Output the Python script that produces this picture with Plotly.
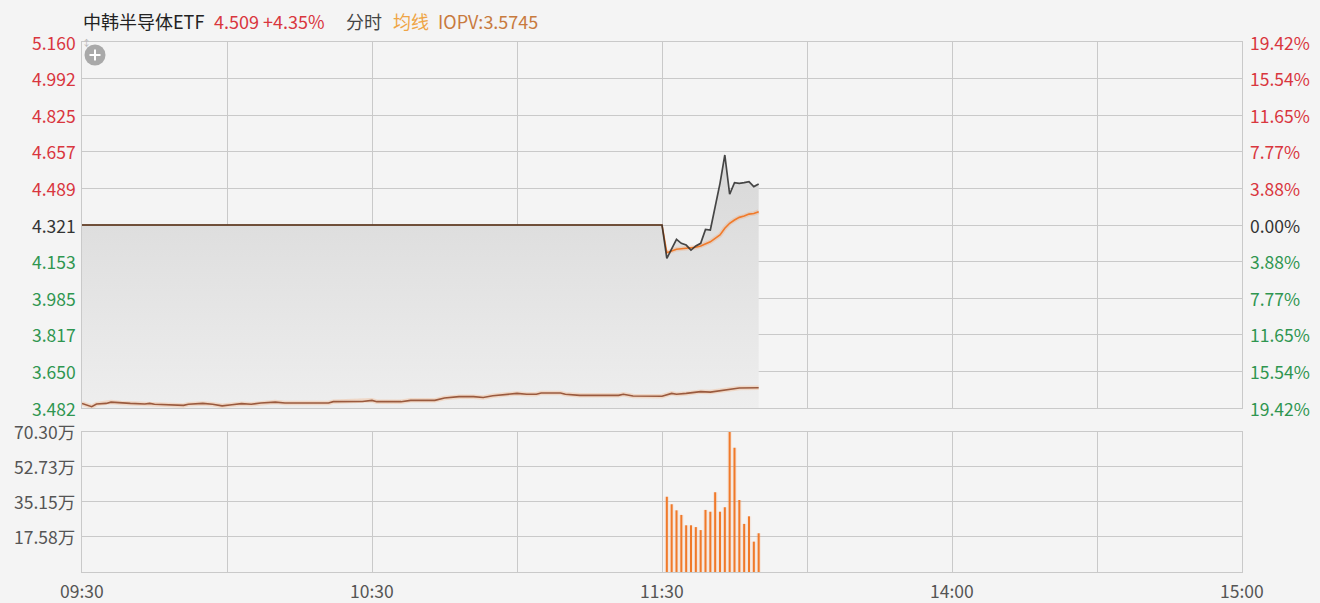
import plotly.graph_objects as go

# ---------------- data ----------------
prev_close = 4.321

price_ticks = [5.160, 4.992, 4.825, 4.657, 4.489, 4.321, 4.153, 3.985, 3.817, 3.650, 3.482]
pct_labels = ["19.42%", "15.54%", "11.65%", "7.77%", "3.88%", "0.00%",
              "3.88%", "7.77%", "11.65%", "15.54%", "19.42%"]
vol_ticks = [17.58, 35.15, 52.73, 70.30]
time_ticks = ["09:30", "10:00", "10:30", "11:00", "11:30", "13:30", "14:00", "14:30", "15:00"]
time_labels = ["09:30", "", "10:30", "", "11:30", "", "14:00", "", "15:00"]

price_times = ["09:30", "11:30", "13:01", "13:02", "13:03", "13:04", "13:05", "13:06", "13:07",
               "13:08", "13:09", "13:10", "13:11", "13:12", "13:13", "13:14", "13:15", "13:16",
               "13:17", "13:18", "13:19", "13:20"]
price_vals = [4.321, 4.321, 4.168, 4.214, 4.255, 4.237, 4.229, 4.206, 4.225,
              4.237, 4.301, 4.298, 4.405, 4.512, 4.642, 4.462, 4.515, 4.512,
              4.515, 4.520, 4.497, 4.509]
avg_vals = [4.321, 4.321, 4.194, 4.203, 4.210, 4.212, 4.214, 4.214, 4.219,
            4.225, 4.234, 4.244, 4.260, 4.275, 4.306, 4.329, 4.344, 4.356,
            4.362, 4.371, 4.374, 4.382]

iopv_times = ["09:30", "09:32", "09:33", "09:35", "09:36", "09:38", "09:40", "09:43", "09:44",
              "09:45", "09:51", "09:52", "09:55", "09:57", "09:59", "10:01", "10:03", "10:05",
              "10:07", "10:10", "10:12", "10:21", "10:22", "10:28", "10:30", "10:31", "10:36",
              "10:38", "10:43", "10:45", "10:48", "10:51", "10:53", "10:55", "10:58", "11:00",
              "11:02", "11:04", "11:05", "11:09", "11:10", "11:13", "11:21", "11:22", "11:24",
              "11:30", "13:02", "13:03", "13:05", "13:08", "13:10", "13:12", "13:14", "13:16",
              "13:20"]
iopv_vals = [3.503, 3.488, 3.500, 3.503, 3.509, 3.505, 3.503, 3.500, 3.503,
             3.499, 3.494, 3.499, 3.503, 3.499, 3.492, 3.497, 3.502, 3.499,
             3.505, 3.509, 3.505, 3.505, 3.511, 3.512, 3.517, 3.511, 3.511,
             3.517, 3.517, 3.528, 3.534, 3.534, 3.530, 3.538, 3.545, 3.549,
             3.545, 3.545, 3.551, 3.551, 3.545, 3.540, 3.540, 3.545, 3.537,
             3.536, 3.549, 3.545, 3.549, 3.557, 3.555, 3.561, 3.567, 3.574,
             3.5745]

vol_times = ["13:01", "13:02", "13:03", "13:04", "13:05", "13:06", "13:07", "13:08", "13:09",
             "13:10", "13:11", "13:12", "13:13", "13:14", "13:15", "13:16", "13:17", "13:18",
             "13:19", "13:20"]
vol_vals = [37.7, 33.9, 30.9, 28.6, 23.4, 23.4, 22.5, 21.0, 31.1,
            30.2, 39.9, 30.2, 32.4, 70.3, 62.3, 36.1, 24.1, 27.9,
            15.2, 19.4]


def tidx(t):
    h, m = map(int, t.split(":"))
    mins = h * 60 + m
    if mins <= 11 * 60 + 30:
        return mins - (9 * 60 + 30)
    return mins - 13 * 60 + 120


px_ = [tidx(t) for t in price_times]
iopv_x = [tidx(t) for t in iopv_times]
vol_x = [tidx(t) for t in vol_times]
tick_x = [tidx(t) for t in time_ticks]

FONT = "Noto Sans CJK SC, Noto Sans, sans-serif"
RED = "#d9363e"
GREEN = "#2f9650"
DARK = "#333333"
GRID = "#c9c9c9"
ORANGE = "#f07a2a"
LBL = 17.5

fig = go.Figure()

# baseline for the fill
fig.add_trace(go.Scatter(x=[px_[0], px_[-1]], y=[price_ticks[-1], price_ticks[-1]],
                         mode="lines", line=dict(width=0), hoverinfo="skip",
                         showlegend=False, xaxis="x", yaxis="y"))
# gradient fill under price
fig.add_trace(go.Scatter(x=px_, y=price_vals, mode="lines", line=dict(width=0),
                         fill="tonexty",
                         fillgradient=dict(type="vertical", start=price_ticks[-1], stop=max(price_vals),
                                           colorscale=[[0, "#eeeeee"], [1, "#d8d8d8"]]),
                         hoverinfo="skip", showlegend=False, xaxis="x", yaxis="y"))

# IOPV glow + line
fig.add_trace(go.Scatter(x=iopv_x, y=iopv_vals, mode="lines",
                         line=dict(color="rgba(245,165,110,0.3)", width=4.5),
                         showlegend=False, hoverinfo="skip", xaxis="x", yaxis="y"))
fig.add_trace(go.Scatter(x=iopv_x, y=iopv_vals, mode="lines",
                         line=dict(color="#9a5a3e", width=1.6),
                         showlegend=False, xaxis="x", yaxis="y"))

# average line glow + line
fig.add_trace(go.Scatter(x=px_[2:], y=avg_vals[2:], mode="lines",
                         line=dict(color="rgba(245,150,90,0.25)", width=4.5),
                         showlegend=False, hoverinfo="skip", xaxis="x", yaxis="y"))
fig.add_trace(go.Scatter(x=px_, y=avg_vals, mode="lines",
                         line=dict(color=ORANGE, width=1.6),
                         showlegend=False, xaxis="x", yaxis="y"))

# price line
fig.add_trace(go.Scatter(x=px_, y=price_vals, mode="lines",
                         line=dict(color="#2a2a2a", width=1.7), opacity=0.85,
                         showlegend=False, xaxis="x", yaxis="y"))

# volume bars (glow + bar)
fig.add_trace(go.Bar(x=vol_x, y=vol_vals, width=0.9, marker=dict(color="rgba(245,150,90,0.15)", line=dict(width=0)),
                     showlegend=False, hoverinfo="skip", xaxis="x2", yaxis="y2"))
fig.add_trace(go.Bar(x=vol_x, y=vol_vals, width=0.42, marker=dict(color=ORANGE, line=dict(width=0)),
                     showlegend=False, xaxis="x2", yaxis="y2"))

W, H = 1320, 603
L, R, T, B = 82, 78, 42, 31
plot_h = H - T - B
price_dom = [(572 - 408) / plot_h, 1.0]
vol_dom = [0.0, (572 - 431.7) / plot_h]

axis_common = dict(showgrid=True, gridcolor=GRID, gridwidth=1, showline=True, mirror=True,
                   linecolor=GRID, linewidth=1, zeroline=False, showticklabels=False, ticks="")

fig.update_layout(
    width=W, height=H,
    margin=dict(l=L, r=R, t=T, b=B),
    paper_bgcolor="#f4f4f4", plot_bgcolor="#f4f4f4",
    barmode="overlay",
    font=dict(family=FONT, size=16, color=DARK),
    showlegend=False,
    xaxis=dict(range=[0, 240], tickvals=tick_x, domain=[0, 1], anchor="y", **axis_common),
    yaxis=dict(range=[price_ticks[-1], price_ticks[0]], tickvals=price_ticks, domain=price_dom,
               anchor="x", **axis_common),
    xaxis2=dict(range=[0, 240], tickvals=tick_x, domain=[0, 1], anchor="y2", **axis_common),
    yaxis2=dict(range=[0, vol_ticks[-1]], tickvals=vol_ticks, domain=vol_dom, anchor="x2",
                **axis_common),
)

ann = []
# price tick labels (left) and percent labels (right)
for p, pl in zip(price_ticks, pct_labels):
    if abs(p - prev_close) < 1e-9:
        c = DARK
    elif p > prev_close:
        c = RED
    else:
        c = GREEN
    ann.append(dict(x=0, xref="paper", y=p, yref="y", text=f"{p:.3f}", showarrow=False,
                    xanchor="right", yanchor="middle", xshift=-4, font=dict(size=LBL, color=c)))
    ann.append(dict(x=1, xref="paper", y=p, yref="y", text=pl, showarrow=False,
                    xanchor="left", yanchor="middle", xshift=6, font=dict(size=LBL, color=c)))

# volume tick labels
for v in vol_ticks:
    ann.append(dict(x=0, xref="paper", y=v, yref="y2", text=f"{v:.2f}万", showarrow=False,
                    xanchor="right", yanchor="middle", xshift=-5, font=dict(size=LBL, color="#555555")))

# time labels
for tx, tl in zip(tick_x, time_labels):
    if tl:
        ann.append(dict(x=tx, xref="x2", y=0, yref="paper", text=tl, showarrow=False,
                        xanchor="center", yanchor="middle", yshift=-18, font=dict(size=LBL, color="#555555")))

# header
header = [("中韩半导体ETF", "#222222", -1),
          (f"{price_vals[-1]:.3f} +{(price_vals[-1] / prev_close - 1) * 100:.2f}%", RED, 130),
          ("分时", "#444444", 262),
          ("均线", "#efa545", 309),
          (f"IOPV:{iopv_vals[-1]}", "#c87a3e", 354)]
for txt, col, xs in header:
    ann.append(dict(x=0, xref="paper", y=1, yref="paper", text=txt, showarrow=False,
                    xanchor="left", yanchor="middle", xshift=xs, yshift=21,
                    font=dict(size=18, color=col)))

# tiny arrow near top-left
ann.append(dict(x=0, xref="paper", y=1, yref="paper", text="↕", showarrow=False,
                xanchor="left", yanchor="middle", xshift=-2, yshift=0,
                font=dict(size=9, color="#b5b5b5")))

fig.update_layout(annotations=ann)

# zoom "+" icon
fig.add_shape(type="circle", xref="paper", yref="paper", xsizemode="pixel", ysizemode="pixel",
              xanchor=0, yanchor=1, x0=2.5, x1=23.5, y0=-2.5, y1=-23.5,
              fillcolor="#a9a9a9", line=dict(width=0))
fig.add_shape(type="line", xref="paper", yref="paper", xsizemode="pixel", ysizemode="pixel",
              xanchor=0, yanchor=1, x0=7.5, x1=18.5, y0=-13, y1=-13,
              line=dict(color="white", width=2))
fig.add_shape(type="line", xref="paper", yref="paper", xsizemode="pixel", ysizemode="pixel",
              xanchor=0, yanchor=1, x0=13, x1=13, y0=-7.5, y1=-18.5,
              line=dict(color="white", width=2))

fig.write_html(
    "out.html",
    config={"displayModeBar": False},
    post_script="document.body.style.margin='0';document.body.style.padding='0';"
                "document.body.style.overflow='hidden';document.body.style.background='#f4f4f4';",
)
